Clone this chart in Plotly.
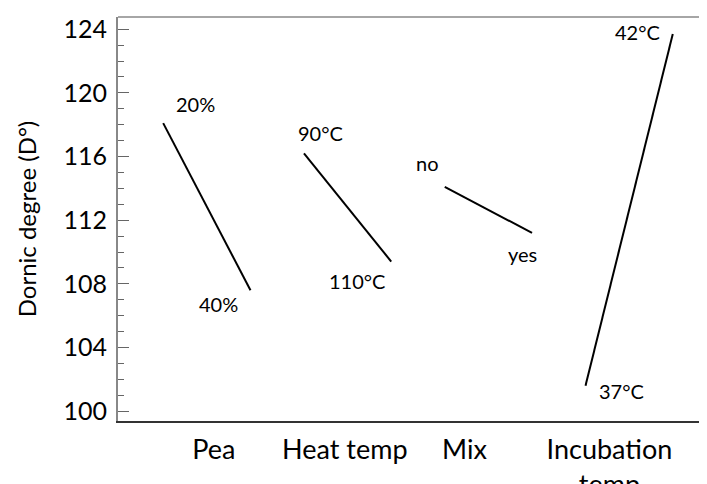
import plotly.graph_objects as go

# factors and their two levels (main effects on Dornic degree)
factors = ["Pea", "Heat temp", "Mix", "Incubation<br>temp"]
level_low = ["20%", "90°C", "no", "37°C"]
level_high = ["40%", "110°C", "yes", "42°C"]
mean_low = [118.1, 116.2, 114.1, 101.6]
mean_high = [107.6, 109.4, 111.2, 123.7]

# where the factor names sit on the x axis (factor index units)
label_pos = [0.05, 0.98, 1.83, 2.86]

half = 0.31  # half width of each effect line
font = "Lato, Open Sans, sans-serif"

fig = go.Figure()

for i, f in enumerate(factors):
    fig.add_trace(go.Scatter(
        x=[i - half, i + half], y=[mean_low[i], mean_high[i]],
        mode="lines", line=dict(color="black", width=2),
        showlegend=False, hoverinfo="skip"))

# level labels, offset from the line ends (pixels)
low_shift = [(32, 19), (17, 20), (-17, 24), (36, -5)]
high_shift = [(-32, -14), (-34, -19), (-10, -21), (-35, 2)]
for i in range(len(factors)):
    for x, y, txt, (dx, dy) in [(i - half, mean_low[i], level_low[i], low_shift[i]),
                                (i + half, mean_high[i], level_high[i], high_shift[i])]:
        fig.add_annotation(x=x, y=y, text=txt, showarrow=False,
                           xshift=dx, yshift=dy,
                           font=dict(size=20, color="black", family=font))

# invisible trace to activate right axis ticks
fig.add_trace(go.Scatter(x=[0], y=[112], yaxis="y2", mode="markers",
                         marker=dict(opacity=0), showlegend=False, hoverinfo="skip"))

# page body adds 8px around the figure, so size/margins are trimmed by 8
fig.update_layout(
    width=699, height=476,
    margin=dict(l=110, r=0, t=9, b=63),
    paper_bgcolor="white", plot_bgcolor="white",
    font=dict(family=font, color="black"),
    xaxis=dict(range=[-0.631, 3.553], tickvals=label_pos, ticktext=factors,
               showgrid=False, zeroline=False, ticks="", automargin=False,
               showline=True, linecolor="#333333", linewidth=1.5,
               tickfont=dict(size=27), ticklabelstandoff=4),
    yaxis=dict(range=[99.38, 124.77], dtick=4, tick0=100, automargin=False,
               ticks="inside", ticklen=11, tickcolor="#666666", tickwidth=1,
               minor=dict(dtick=1, ticks="inside", ticklen=6, tickcolor="#666666"),
               showgrid=False, zeroline=False,
               showline=True, linecolor="#888888", linewidth=2,
               tickfont=dict(size=25), ticklabelstandoff=4,
               title=dict(text="Dornic degree (D°)", font=dict(size=24), standoff=20)),
    yaxis2=dict(range=[99.38, 124.77], dtick=4, tick0=100, overlaying="y",
                side="right", ticks="inside", ticklen=5, tickcolor="#666666",
                automargin=False,
                showticklabels=False, showgrid=False, zeroline=False, showline=False),
    shapes=[dict(type="line", xref="paper", yref="paper", x0=0, x1=1, y0=1, y1=1,
                 line=dict(color="#888888", width=1.5))],
)

fig.write_html("out.html")
